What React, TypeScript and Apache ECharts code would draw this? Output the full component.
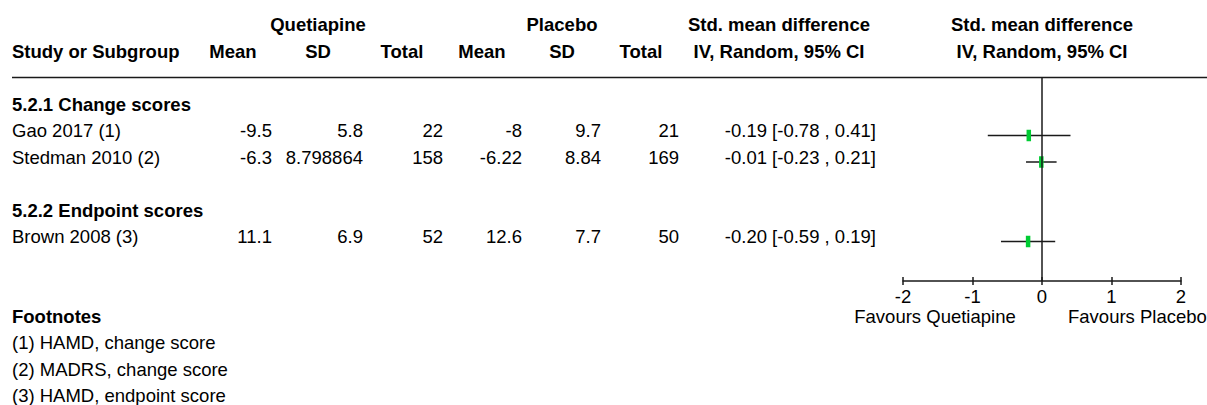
import React, { useEffect, useRef } from "react";
import * as echarts from "echarts";

// ---------- data ----------
const subgroups = ["5.2.1 Change scores", "5.2.2 Endpoint scores"];
const studies = ["Gao 2017 (1)", "Stedman 2010 (2)", "Brown 2008 (3)"];
const studyGroup = [0, 0, 1];
const quetMean = [-9.5, -6.3, 11.1];
const quetSD = [5.8, 8.798864, 6.9];
const quetTotal = [22, 158, 52];
const placMean = [-8, -6.22, 12.6];
const placSD = [9.7, 8.84, 7.7];
const placTotal = [21, 169, 50];
const smd = [-0.19, -0.01, -0.2];
const ciLow = [-0.78, -0.23, -0.59];
const ciHigh = [0.41, 0.21, 0.19];
const footnotes = ["(1) HAMD, change score", "(2) MADRS, change score", "(3) HAMD, endpoint score"];
const axisMin = -2;
const axisMax = 2;
const axisInterval = 1;
const favoursLeft = "Favours Quetiapine";
const favoursRight = "Favours Placebo";

// ---------- layout ----------
const W = 1207;
const H = 405;
const FONT = '"Liberation Sans", Arial, Helvetica, sans-serif';
const FS = 18.5;
const ROW0 = 24.5;
const ROW_H = 26.5;
const rowY = (k: number) => ROW0 + ROW_H * k;
const MARK_OFFSET = 5; // whiskers sit slightly below the text centre
const GRID_TOP = 78;
const GRID_BOTTOM_Y = 281;
const PLOT_LEFT = 903;
const PLOT_RIGHT = 1181;
const TEXT = "#000";
const LINE = "#1a1a1a";
const GREEN = "#00cc33";

function txt(text: string, x: number, y: number, align: string, bold = false, lineHeight?: number) {
  const style: any = {
    text,
    fill: TEXT,
    fontSize: FS,
    fontFamily: FONT,
    fontWeight: bold ? "bold" : "normal",
    align,
    verticalAlign: "middle",
  };
  if (lineHeight) style.lineHeight = lineHeight;
  return { type: "text", x, y, silent: true, style };
}

export default function App() {
  const ref = useRef<HTMLDivElement>(null);

  useEffect(() => {
    if (!ref.current) return;
    const chart = echarts.init(ref.current, null, { renderer: "svg", width: W, height: H });

    // build row indices
    const studyRow: number[] = [];
    const subgroupRow: number[] = [];
    let k = 3;
    subgroups.forEach((_, g) => {
      subgroupRow.push(k);
      k++;
      studies.forEach((_, i) => {
        if (studyGroup[i] === g) {
          studyRow[i] = k;
          k++;
        }
      });
      k++;
    });
    const footRow = k + 1;

    const yMin = (GRID_TOP - ROW0 - MARK_OFFSET) / ROW_H;
    const yMax = (GRID_BOTTOM_Y - ROW0 - MARK_OFFSET) / ROW_H;

    const graphics: any[] = [];
    // header
    graphics.push(txt("Quetiapine", 318, rowY(0), "center", true));
    graphics.push(txt("Placebo", 562, rowY(0), "center", true));
    graphics.push(txt("Std. mean difference", 779, rowY(0), "center", true));
    graphics.push(txt("Std. mean difference", 1042, rowY(0), "center", true));
    graphics.push(txt("Study or Subgroup", 12, rowY(1), "left", true));
    graphics.push(txt("Mean", 233, rowY(1), "center", true));
    graphics.push(txt("SD", 318, rowY(1), "center", true));
    graphics.push(txt("Total", 402, rowY(1), "center", true));
    graphics.push(txt("Mean", 482, rowY(1), "center", true));
    graphics.push(txt("SD", 562, rowY(1), "center", true));
    graphics.push(txt("Total", 641, rowY(1), "center", true));
    graphics.push(txt("IV, Random, 95% CI", 779, rowY(1), "center", true));
    graphics.push(txt("IV, Random, 95% CI", 1042, rowY(1), "center", true));
    graphics.push({
      type: "line",
      silent: true,
      shape: { x1: 12, y1: 77.5, x2: W, y2: 77.5 },
      style: { stroke: LINE, lineWidth: 1.6 },
    });

    subgroups.forEach((s, g) => graphics.push(txt(s, 12, rowY(subgroupRow[g]), "left", true)));

    const cols: [number, (i: number) => string][] = [
      [272, (i) => String(quetMean[i])],
      [363, (i) => String(quetSD[i])],
      [443, (i) => String(quetTotal[i])],
      [522, (i) => String(placMean[i])],
      [601, (i) => String(placSD[i])],
      [679, (i) => String(placTotal[i])],
      [876, (i) => `${smd[i].toFixed(2)} [${ciLow[i].toFixed(2)} , ${ciHigh[i].toFixed(2)}]`],
    ];
    studies.forEach((s, i) => {
      const y = rowY(studyRow[i]);
      graphics.push(txt(s, 12, y, "left"));
      cols.forEach(([x, f]) => graphics.push(txt(f(i), x, y, "right")));
    });

    graphics.push(txt("Footnotes", 12, rowY(footRow), "left", true));
    footnotes.forEach((f, i) => graphics.push(txt(f, 12, rowY(footRow + 1 + i), "left")));

    graphics.push(txt(favoursLeft, 935, rowY(footRow) + 0.5, "center", false, 16));
    graphics.push(txt(favoursRight, 1068, rowY(footRow) + 0.5, "left", false, 16));

    const forestData = studies.map((_, i) => [smd[i], ciLow[i], ciHigh[i], studyRow[i]]);

    const axisCommon = {
      type: "value",
      min: axisMin,
      max: axisMax,
      interval: axisInterval,
      position: "bottom",
      splitLine: { show: false },
    };

    chart.setOption({
      animation: false,
      grid: {
        left: PLOT_LEFT,
        right: W - PLOT_RIGHT,
        top: GRID_TOP,
        bottom: H - GRID_BOTTOM_Y,
        containLabel: false,
      },
      xAxis: [
        {
          ...axisCommon,
          axisLine: { show: true, onZero: false, lineStyle: { color: LINE, width: 1.5 } },
          axisTick: { show: true, inside: false, length: 4, lineStyle: { color: LINE, width: 1.5 } },
          axisLabel: { show: true, color: TEXT, fontSize: FS, fontFamily: FONT, margin: 7, lineHeight: 16 },
        },
        {
          ...axisCommon,
          axisLine: { show: false, onZero: false },
          axisTick: { show: true, inside: true, length: 4, lineStyle: { color: LINE, width: 1.5 } },
          axisLabel: { show: false },
        },
      ],
      yAxis: {
        type: "value",
        inverse: true,
        min: yMin,
        max: yMax,
        show: false,
        splitLine: { show: false },
      },
      series: [
        {
          type: "custom",
          xAxisIndex: 0,
          yAxisIndex: 0,
          data: forestData,
          encode: { x: [0, 1, 2], y: 3 },
          clip: false,
          renderItem: (params: any, api: any) => {
            const row = api.value(3);
            const lo = api.coord([api.value(1), row]);
            const hi = api.coord([api.value(2), row]);
            const c = api.coord([api.value(0), row]);
            return {
              type: "group",
              children: [
                {
                  type: "line",
                  shape: { x1: lo[0], y1: lo[1], x2: hi[0], y2: hi[1] },
                  style: { stroke: LINE, lineWidth: 1.5 },
                },
                {
                  type: "rect",
                  shape: { x: c[0] - 2.25, y: c[1] - 5.75, width: 4.5, height: 11.5 },
                  style: { fill: GREEN },
                },
              ],
            };
          },
          markLine: {
            silent: true,
            symbol: "none",
            label: { show: false },
            lineStyle: { color: LINE, width: 1.5, type: "solid" },
            data: [{ xAxis: 0 }],
          },
        },
      ],
      graphic: graphics,
    });

    return () => chart.dispose();
  }, []);

  return (
    <div
      ref={ref}
      style={{ position: "fixed", left: 0, top: 0, width: W, height: H, background: "#fff" }}
    />
  );
}
